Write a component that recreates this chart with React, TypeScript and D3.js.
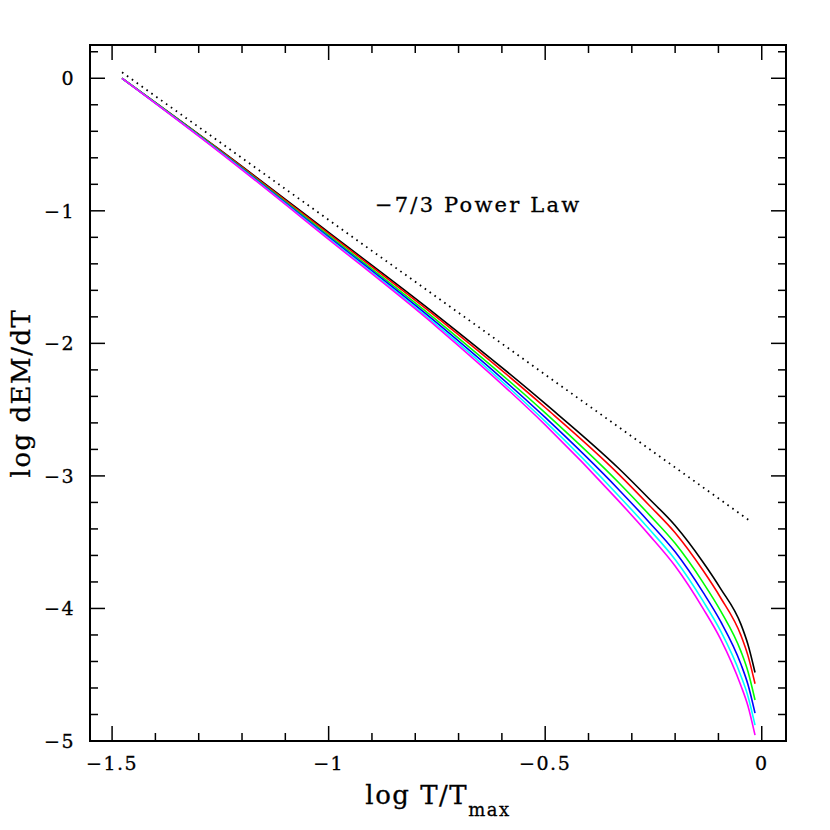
import React from "react";
import * as d3 from "d3";

const xGrid = [-1.477, -1.25, -1.0, -0.75, -0.5, -0.33, -0.26, -0.2, -0.135, -0.095, -0.048, -0.032, -0.0155];
const blackY = [0, -0.543, -1.163, -1.788, -2.455, -2.944, -3.172, -3.374, -3.653, -3.85, -4.12, -4.27, -4.483];
const redY = [0, -0.546, -1.172, -1.804, -2.484, -2.988, -3.221, -3.429, -3.716, -3.919, -4.203, -4.354, -4.568];
const greenY = [0, -0.551, -1.186, -1.827, -2.525, -3.052, -3.292, -3.509, -3.807, -4.018, -4.324, -4.474, -4.691];
const blueY = [0, -0.555, -1.197, -1.846, -2.559, -3.104, -3.349, -3.573, -3.881, -4.098, -4.421, -4.572, -4.79];
const cyanY = [0, -0.559, -1.207, -1.863, -2.589, -3.151, -3.401, -3.631, -3.947, -4.17, -4.509, -4.66, -4.88];
const magentaY = [0, -0.562, -1.215, -1.877, -2.615, -3.19, -3.445, -3.68, -4.003, -4.231, -4.583, -4.734, -4.956];

const seriesNames = ["black", "red", "green", "blue", "cyan", "magenta"];
const seriesColors = ["#000000", "#ff0000", "#00ff00", "#0000ff", "#00ffff", "#ff00ff"];
const seriesValues = [blackY, redY, greenY, blueY, cyanY, magentaY];

const powerLawX = [-1.477, -0.027];
const powerLawY = [0.045, -3.34];

const xMajorTicks = [-1.5, -1, -0.5, 0];
const xTickLabels = ["\u22121.5", "\u22121", "\u22120.5", "0"];
const yMajorTicks = [0, -1, -2, -3, -4, -5];
const yTickLabels = ["0", "\u22121", "\u22122", "\u22123", "\u22124", "\u22125"];

const W = 830;
const H = 830;
const L = 90, R = 786, T = 45, B = 741;

export default function App() {
  const x = d3.scaleLinear().domain([-1.551, 0.056]).range([L, R]);
  const y = d3.scaleLinear().domain([-5, 0.251]).range([B, T]);

  const xMinor = d3.range(-15, 1).map((i) => i / 10).filter((v) => !xMajorTicks.some((m) => Math.abs(m - v) < 1e-6));
  const yMinor = d3.range(-25, 2).map((i) => i / 5).filter((v) => !yMajorTicks.some((m) => Math.abs(m - v) < 1e-6));

  const line = d3
    .line<[number, number]>()
    .x((d) => x(d[0]))
    .y((d) => y(d[1]))
    .curve(d3.curveMonotoneX);

  const straight = d3
    .line<[number, number]>()
    .x((d) => x(d[0]))
    .y((d) => y(d[1]));

  const font = "'DejaVu Serif', serif";
  const majorLen = 15;
  const minorLen = 8;

  return (
    <svg
      width={W}
      height={H}
      style={{ position: "absolute", left: 0, top: 0, background: "#fff" }}
    >
      {seriesValues.map((vals, i) => (
        <path
          key={seriesNames[i]}
          d={line(xGrid.map((v, j) => [v, vals[j]]) as [number, number][]) || ""}
          fill="none"
          stroke={seriesColors[i]}
          strokeWidth={1.6}
        />
      ))}
      <path
        d={straight(powerLawX.map((v, j) => [v, powerLawY[j]]) as [number, number][]) || ""}
        fill="none"
        stroke="#000"
        strokeWidth={1.8}
        strokeDasharray="1.6 4.4"
      />

      <g stroke="#000" strokeWidth={1.5}>
        {xMajorTicks.map((v) => (
          <g key={"xM" + v}>
            <line x1={x(v)} x2={x(v)} y1={B} y2={B - majorLen} />
            <line x1={x(v)} x2={x(v)} y1={T} y2={T + majorLen} />
          </g>
        ))}
        {xMinor.map((v) => (
          <g key={"xm" + v}>
            <line x1={x(v)} x2={x(v)} y1={B} y2={B - minorLen} />
            <line x1={x(v)} x2={x(v)} y1={T} y2={T + minorLen} />
          </g>
        ))}
        {yMajorTicks.map((v) => (
          <g key={"yM" + v}>
            <line x1={L} x2={L + majorLen} y1={y(v)} y2={y(v)} />
            <line x1={R} x2={R - majorLen} y1={y(v)} y2={y(v)} />
          </g>
        ))}
        {yMinor.map((v) => (
          <g key={"ym" + v}>
            <line x1={L} x2={L + minorLen} y1={y(v)} y2={y(v)} />
            <line x1={R} x2={R - minorLen} y1={y(v)} y2={y(v)} />
          </g>
        ))}
      </g>
      <rect x={L} y={T} width={R - L} height={B - T} fill="none" stroke="#000" strokeWidth={2} />

      <g fontFamily={font} fontSize={19} fill="#000" stroke="#000" strokeWidth={0.3} style={{ letterSpacing: "1.5px" }}>
        {xMajorTicks.map((v, i) => (
          <text key={"xl" + v} x={x(v)} y={770} textAnchor="middle">
            {xTickLabels[i]}
          </text>
        ))}
        {yMajorTicks.map((v, i) => (
          <text key={"yl" + v} x={75} y={y(v) + 7} textAnchor="end">
            {yTickLabels[i]}
          </text>
        ))}
      </g>

      <text x={375} y={212} fontFamily={font} fontSize={21} stroke="#000" strokeWidth={0.3} style={{ letterSpacing: "2.2px" }}>
        {"\u22127/3 Power Law"}
      </text>

      <text
        x={(L + R) / 2}
        y={804}
        textAnchor="middle"
        fontFamily={font}
        fontSize={26}
        stroke="#000"
        strokeWidth={0.3}
        style={{ letterSpacing: "1.5px" }}
      >
        log T/T
        <tspan fontSize={18} dy={12}>max</tspan>
      </text>
      <text
        transform={`translate(30, ${(T + B) / 2}) rotate(-90)`}
        textAnchor="middle"
        fontFamily={font}
        fontSize={26}
        stroke="#000"
        strokeWidth={0.3}
        style={{ letterSpacing: "1.5px" }}
      >
        log dEM/dT
      </text>
    </svg>
  );
}
